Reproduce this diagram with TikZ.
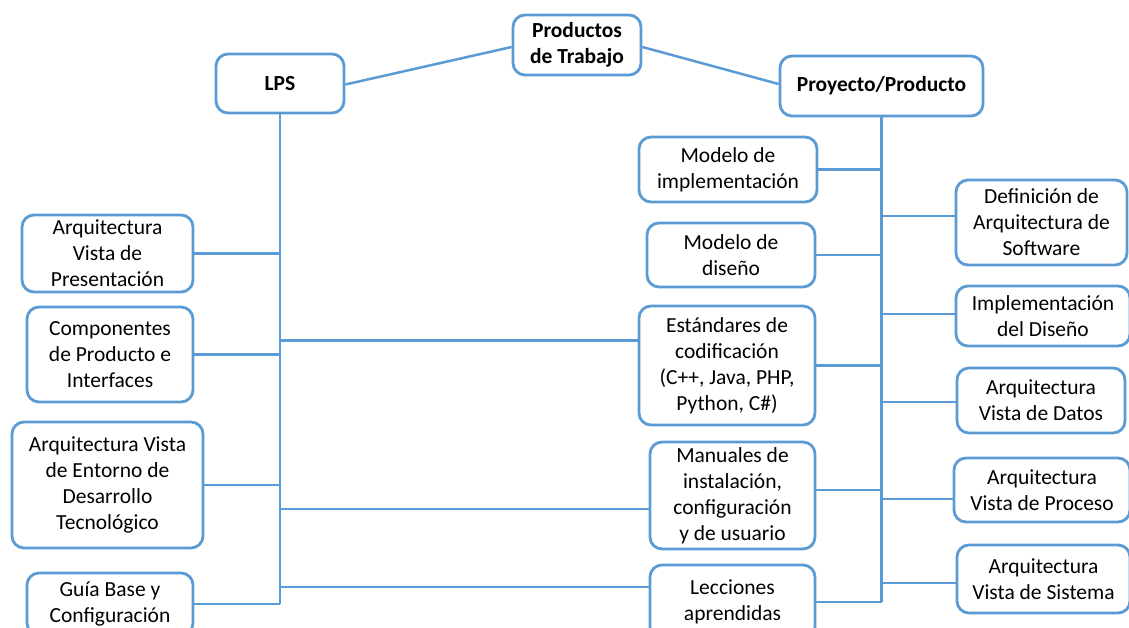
\documentclass[tikz,border=0pt]{standalone}
\usepackage{fontspec}
\setmainfont{Carlito}
\definecolor{bblue}{HTML}{5B9BD5}
\tikzset{
  box/.style={draw=bblue, line width=2.8pt, rounded corners=12pt, fill=white, align=center, inner sep=0pt, font=\fontsize{21.5pt}{26pt}\selectfont, text=black},
  topbox/.style={box, font=\fontsize{21.5pt}{26pt}\selectfont\bfseries},
  conn/.style={draw=bblue, line width=2.5pt}
}
\begin{document}
\begin{tikzpicture}[x=1pt,y=-1pt]
\useasboundingbox (0,0) rectangle (1129,628);
\clip (0,0) rectangle (1129,628);
\fill[white] (0,0) rectangle (1129,628);
% top level
\node[topbox, minimum width=128pt, minimum height=60pt] (prod) at (577,45) {Productos\\de Trabajo};
\node[topbox, minimum width=128pt, minimum height=59pt] (lps) at (280,83.5) {LPS};
\node[topbox, minimum width=203pt, minimum height=60pt] (proy) at (881.5,86) {Proyecto/Producto};
% left column
\node[box, minimum width=171pt, minimum height=77pt] (avp) at (107.5,253.5) {Arquitectura\\Vista de\\Presentación};
\node[box, minimum width=166pt, minimum height=95pt] (cpi) at (110,354.5) {Componentes\\de Producto e\\Interfaces};
\node[box, minimum width=191pt, minimum height=126pt] (aved) at (107.5,485) {Arquitectura Vista\\de Entorno de\\Desarrollo\\Tecnológico};
\node[box, minimum width=166pt, minimum height=62pt] (gbc) at (110,604) {Guía Base y\\Configuración};
% middle column
\node[box, minimum width=178pt, minimum height=65pt] (mi) at (728,169.5) {Modelo de\\implementación};
\node[box, minimum width=168pt, minimum height=64pt] (md) at (731,255) {Modelo de\\diseño};
\node[box, minimum width=176pt, minimum height=119pt] (ec) at (727,365.5) {Estándares de\\codificación\\(C++, Java, PHP,\\Python, C\#)};
\node[box, minimum width=165pt, minimum height=107pt] (man) at (732.5,495.5) {Manuales de\\instalación,\\configuración\\y de usuario};
\node[box, minimum width=165pt, minimum height=74pt] (lec) at (732.5,602) {Lecciones\\aprendidas};
% right column
\node[box, minimum width=171pt, minimum height=85pt] (das) at (1041.5,222.5) {Definición de\\Arquitectura de\\Software};
\node[box, minimum width=174pt, minimum height=60pt] (idd) at (1043,316) {Implementación\\del Diseño};
\node[box, minimum width=168pt, minimum height=65pt] (avd) at (1041,400.5) {Arquitectura\\Vista de Datos};
\node[box, minimum width=176pt, minimum height=64pt] (avpr) at (1042,490) {Arquitectura\\Vista de Proceso};
\node[box, minimum width=173pt, minimum height=68pt] (avs) at (1043.5,579) {Arquitectura\\Vista de Sistema};
% top connectors
\draw[conn] ([yshift=-1pt]lps.east) -- ([yshift=-2pt]prod.west);
\draw[conn] ([yshift=-2pt]prod.east) -- ([yshift=2pt]proy.west);
% LPS trunk
\coordinate (lbot) at (lps.south |- gbc.east);
\draw[conn] (lps.south) -- (lbot);
\draw[conn] (avp.east) -- (avp.east -| lps.south);
\draw[conn] (cpi.east) -- (cpi.east -| lps.south);
\draw[conn] (aved.east) -- (aved.east -| lps.south);
\draw[conn] (gbc.east) -- (lbot);
\draw[conn] ([yshift=25pt]ec.west) -- ([yshift=25pt]ec.west -| lps.south);
\draw[conn] ([yshift=-13.5pt]man.west) -- ([yshift=-13.5pt]man.west -| lps.south);
\draw[conn] ([yshift=15pt]lec.west) -- ([yshift=15pt]lec.west -| lps.south);
% Proyecto trunk
\coordinate (rbot) at (proy.south |- lec.east);
\draw[conn] (proy.south) -- (rbot);
\draw[conn] (mi.east) -- (mi.east -| proy.south);
\draw[conn] (md.east) -- (md.east -| proy.south);
\draw[conn] (ec.east) -- (ec.east -| proy.south);
\draw[conn] ([yshift=5.5pt]man.east) -- ([yshift=5.5pt]man.east -| proy.south);
\draw[conn] (lec.east) -- (rbot);
\draw[conn] ([yshift=6.5pt]das.west) -- ([yshift=6.5pt]das.west -| proy.south);
\draw[conn] ([yshift=2pt]idd.west) -- ([yshift=2pt]idd.west -| proy.south);
\draw[conn] ([yshift=-1.5pt]avd.west) -- ([yshift=-1.5pt]avd.west -| proy.south);
\draw[conn] ([yshift=-9pt]avpr.west) -- ([yshift=-9pt]avpr.west -| proy.south);
\draw[conn] ([yshift=-4pt]avs.west) -- ([yshift=-4pt]avs.west -| proy.south);
\end{tikzpicture}
\end{document}
